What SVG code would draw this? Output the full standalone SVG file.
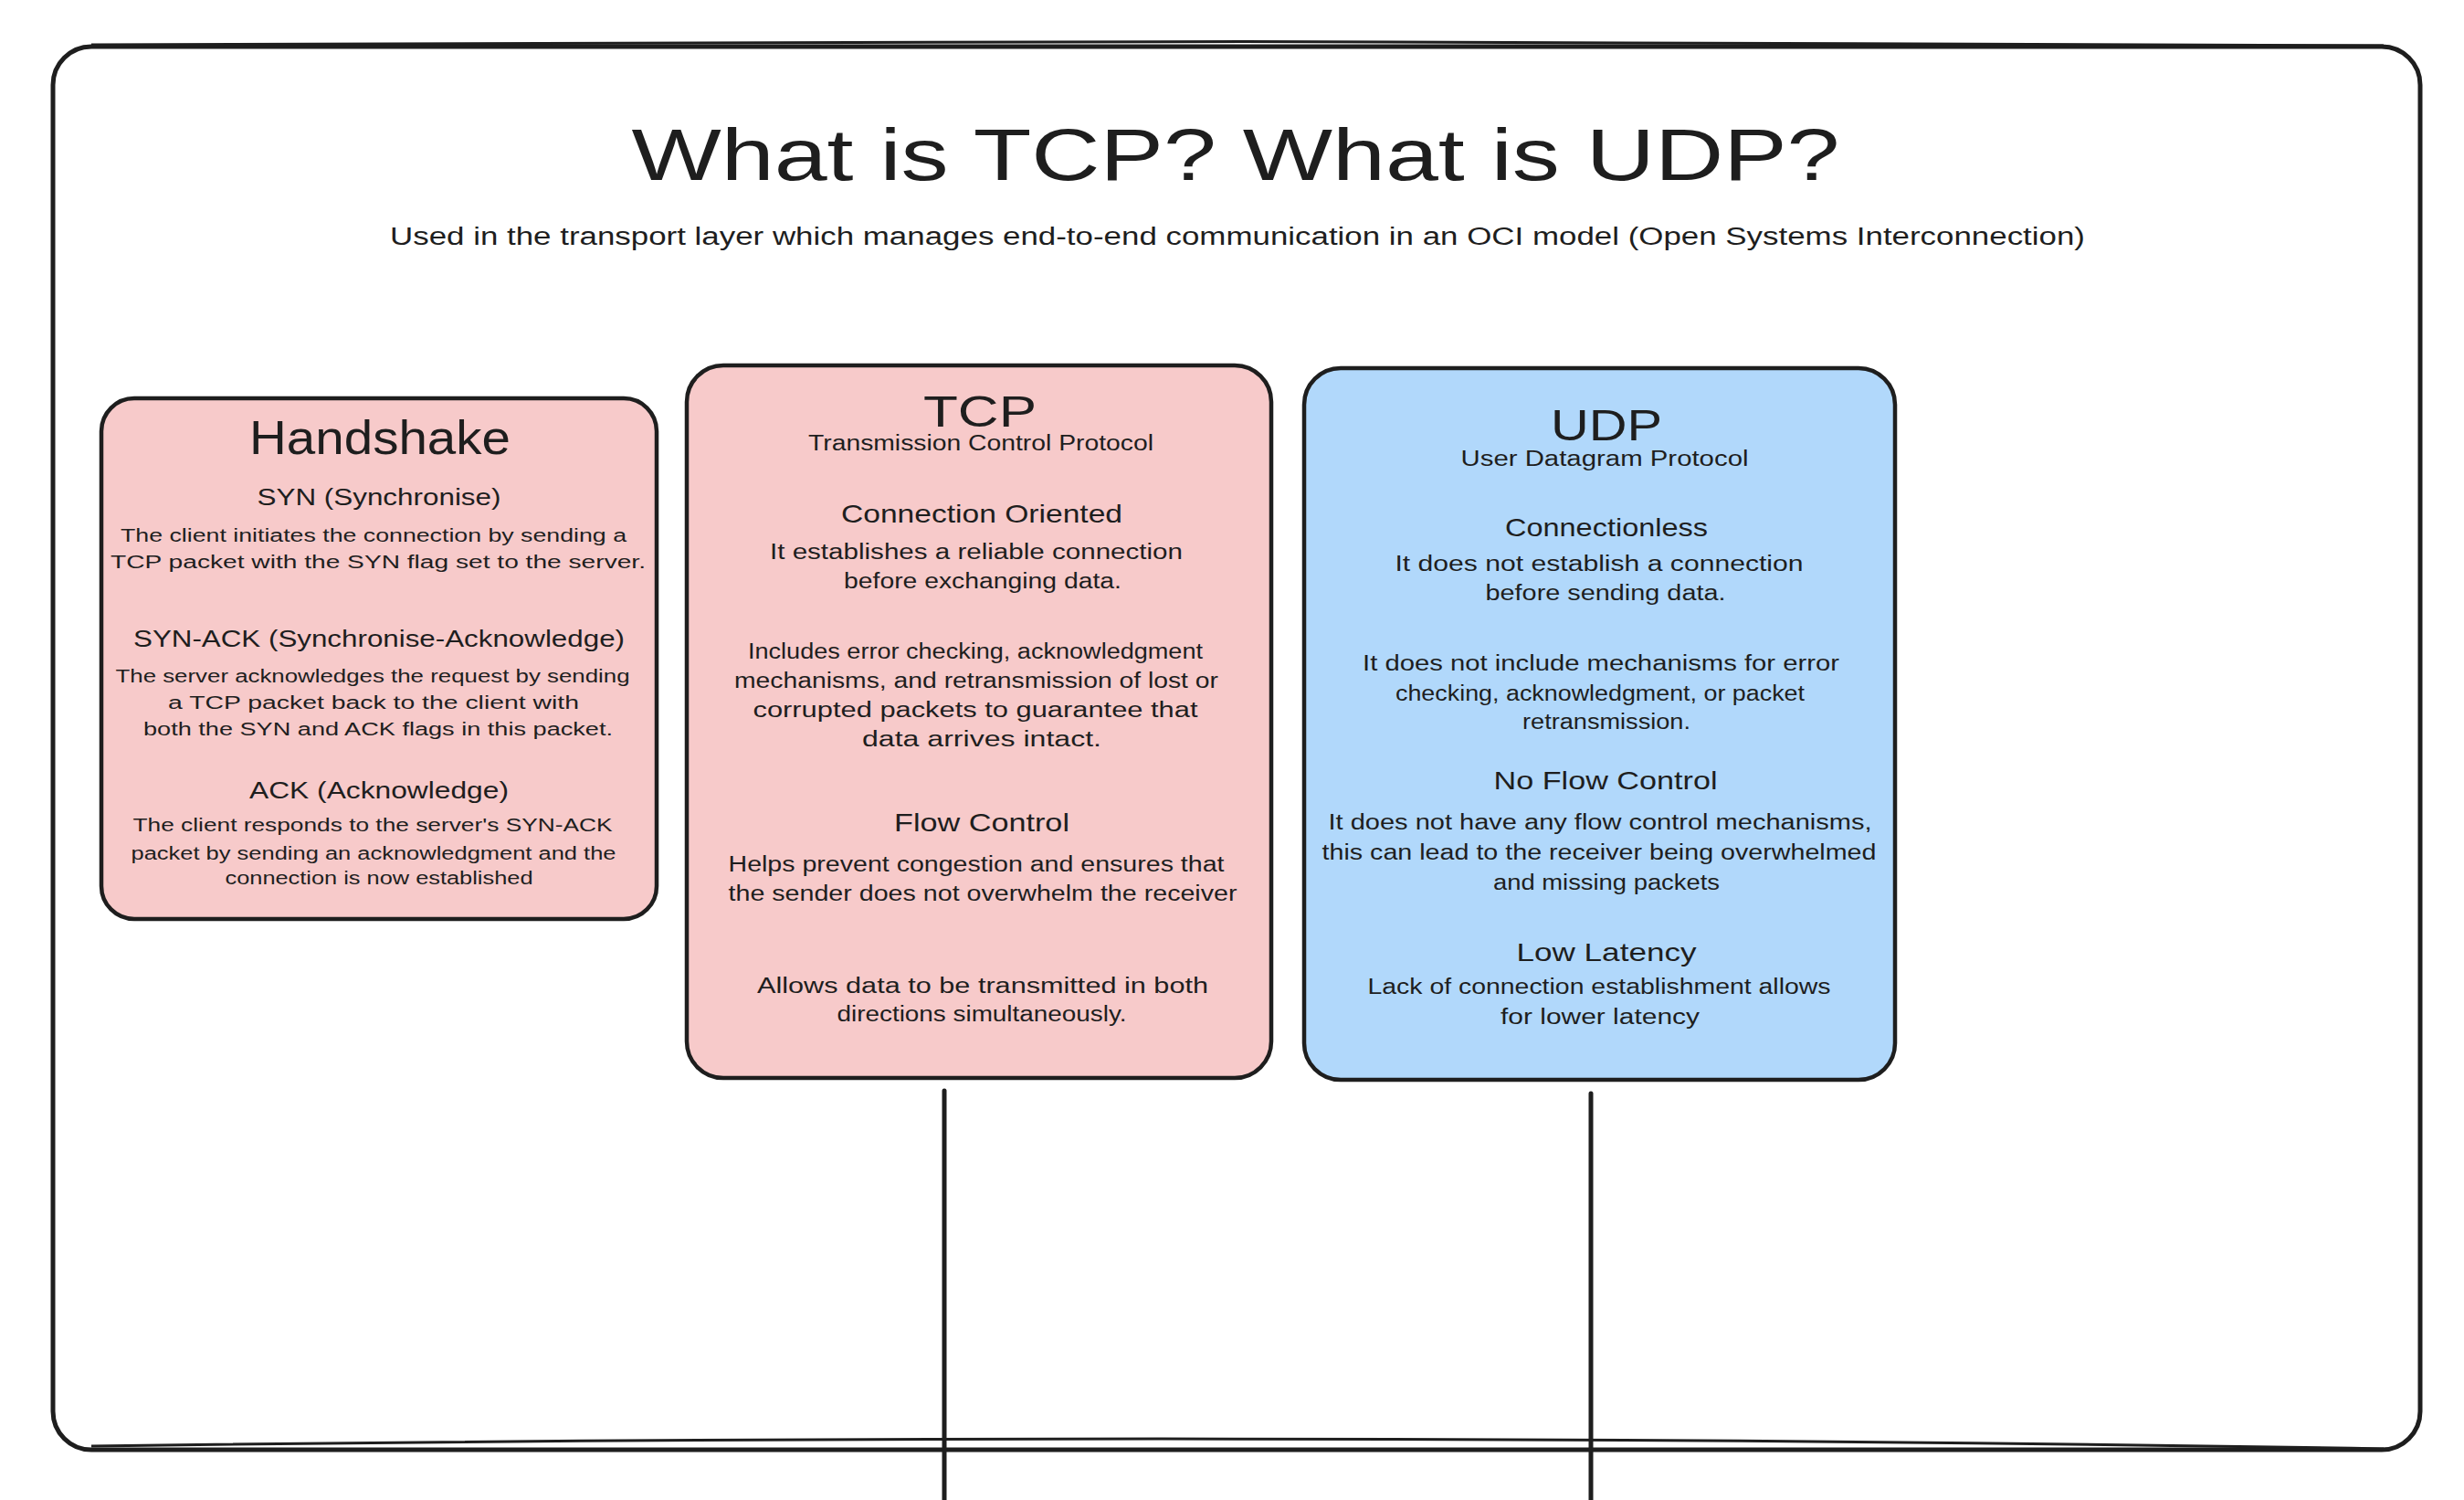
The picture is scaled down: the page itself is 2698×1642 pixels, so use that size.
<svg xmlns="http://www.w3.org/2000/svg" width="2698" height="1642" viewBox="0 0 2698 1642">
<style>
text{font-family:"Liberation Sans","DejaVu Sans",sans-serif;fill:#1e1e1e;text-anchor:middle}
.box{stroke:#1e1e1e;stroke-width:4.5;stroke-linejoin:round}
.pink{fill:#f7caca}
.blue{fill:#b1d8fb}
.frame{fill:#ffffff;stroke:#1e1e1e;stroke-width:5}
.conn{stroke:#1e1e1e;stroke-width:5;fill:none;stroke-linecap:round}
.t1{font-size:80px}
.st{font-size:27px}
.hs{font-size:52px}
.hh{font-size:25px}
.hb{font-size:20px}
.bt{font-size:48px}
.bs{font-size:23px}
.sh{font-size:28px}
.sb{font-size:23px}
</style>
<rect width="2698" height="1642" fill="#ffffff"/>
<g id="frame">
<rect class="frame" x="58" y="51" width="2592" height="1536" rx="42"/>
<path d="M100 49 C700 44 2000 44 2610 50" fill="none" stroke="#1e1e1e" stroke-width="3"/>
<path d="M100 1583 C900 1572 1800 1572 2610 1586" fill="none" stroke="#1e1e1e" stroke-width="3"/>
</g>
<g id="title">
<text class="t1" x="1353" y="197" textLength="1323" lengthAdjust="spacingAndGlyphs">What is TCP? What is UDP?</text>
<text class="st" x="1355" y="268" textLength="1856" lengthAdjust="spacingAndGlyphs">Used in the transport layer which manages end-to-end communication in an OCI model (Open Systems Interconnection)</text>
</g>
<g id="connectors">
<line class="conn" x1="1034" y1="1194" x2="1034" y2="1642"/>
<line class="conn" x1="1742" y1="1197" x2="1742" y2="1642"/>
</g>
<g id="handshake">
<rect class="box pink" x="111" y="436" width="608" height="570" rx="36"/>
<text class="hs" x="416" y="497" textLength="286" lengthAdjust="spacingAndGlyphs">Handshake</text>
<text class="hh" x="415" y="553" textLength="267" lengthAdjust="spacingAndGlyphs">SYN (Synchronise)</text>
<text class="hb" x="409" y="593" textLength="554" lengthAdjust="spacingAndGlyphs">The client initiates the connection by sending a</text>
<text class="hb" x="414" y="622" textLength="586" lengthAdjust="spacingAndGlyphs">TCP packet with the SYN flag set to the server.</text>
<text class="hh" x="415" y="708" textLength="538" lengthAdjust="spacingAndGlyphs">SYN-ACK (Synchronise-Acknowledge)</text>
<text class="hb" x="408" y="747" textLength="563" lengthAdjust="spacingAndGlyphs">The server acknowledges the request by sending</text>
<text class="hb" x="409" y="776" textLength="450" lengthAdjust="spacingAndGlyphs">a TCP packet back to the client with</text>
<text class="hb" x="414" y="805" textLength="514" lengthAdjust="spacingAndGlyphs">both the SYN and ACK flags in this packet.</text>
<text class="hh" x="415" y="874" textLength="284" lengthAdjust="spacingAndGlyphs">ACK (Acknowledge)</text>
<text class="hb" x="408" y="910" textLength="525" lengthAdjust="spacingAndGlyphs">The client responds to the server's SYN-ACK</text>
<text class="hb" x="409" y="941" textLength="531" lengthAdjust="spacingAndGlyphs">packet by sending an acknowledgment and the</text>
<text class="hb" x="415" y="968" textLength="337" lengthAdjust="spacingAndGlyphs">connection is now established</text>
</g>
<g id="tcp">
<rect class="box pink" x="752" y="400" width="640" height="780" rx="40"/>
<text class="bt" x="1073" y="467" textLength="124" lengthAdjust="spacingAndGlyphs">TCP</text>
<text class="bs" x="1074" y="493" textLength="378" lengthAdjust="spacingAndGlyphs">Transmission Control Protocol</text>
<text class="sh" x="1075" y="572" textLength="308" lengthAdjust="spacingAndGlyphs">Connection Oriented</text>
<text class="sb" x="1069" y="612" textLength="452" lengthAdjust="spacingAndGlyphs">It establishes a reliable connection</text>
<text class="sb" x="1076" y="644" textLength="304" lengthAdjust="spacingAndGlyphs">before exchanging data.</text>
<text class="sb" x="1068" y="721" textLength="498" lengthAdjust="spacingAndGlyphs">Includes error checking, acknowledgment</text>
<text class="sb" x="1069" y="753" textLength="530" lengthAdjust="spacingAndGlyphs">mechanisms, and retransmission of lost or</text>
<text class="sb" x="1068" y="785" textLength="487" lengthAdjust="spacingAndGlyphs">corrupted packets to guarantee that</text>
<text class="sb" x="1075" y="817" textLength="262" lengthAdjust="spacingAndGlyphs">data arrives intact.</text>
<text class="sh" x="1075" y="910" textLength="192" lengthAdjust="spacingAndGlyphs">Flow Control</text>
<text class="sb" x="1069" y="954" textLength="543" lengthAdjust="spacingAndGlyphs">Helps prevent congestion and ensures that</text>
<text class="sb" x="1076" y="986" textLength="557" lengthAdjust="spacingAndGlyphs">the sender does not overwhelm the receiver</text>
<text class="sb" x="1076" y="1087" textLength="494" lengthAdjust="spacingAndGlyphs">Allows data to be transmitted in both</text>
<text class="sb" x="1075" y="1118" textLength="317" lengthAdjust="spacingAndGlyphs">directions simultaneously.</text>
</g>
<g id="udp">
<rect class="box blue" x="1428" y="403" width="647" height="779" rx="40"/>
<text class="bt" x="1759" y="482" textLength="122" lengthAdjust="spacingAndGlyphs">UDP</text>
<text class="bs" x="1757" y="510" textLength="315" lengthAdjust="spacingAndGlyphs">User Datagram Protocol</text>
<text class="sh" x="1759" y="587" textLength="222" lengthAdjust="spacingAndGlyphs">Connectionless</text>
<text class="sb" x="1751" y="625" textLength="447" lengthAdjust="spacingAndGlyphs">It does not establish a connection</text>
<text class="sb" x="1758" y="657" textLength="263" lengthAdjust="spacingAndGlyphs">before sending data.</text>
<text class="sb" x="1753" y="734" textLength="522" lengthAdjust="spacingAndGlyphs">It does not include mechanisms for error</text>
<text class="sb" x="1752" y="767" textLength="448" lengthAdjust="spacingAndGlyphs">checking, acknowledgment, or packet</text>
<text class="sb" x="1759" y="798" textLength="184" lengthAdjust="spacingAndGlyphs">retransmission.</text>
<text class="sh" x="1758" y="864" textLength="245" lengthAdjust="spacingAndGlyphs">No Flow Control</text>
<text class="sb" x="1752" y="908" textLength="595" lengthAdjust="spacingAndGlyphs">It does not have any flow control mechanisms,</text>
<text class="sb" x="1751" y="941" textLength="607" lengthAdjust="spacingAndGlyphs">this can lead to the receiver being overwhelmed</text>
<text class="sb" x="1759" y="974" textLength="248" lengthAdjust="spacingAndGlyphs">and missing packets</text>
<text class="sh" x="1759" y="1052" textLength="197" lengthAdjust="spacingAndGlyphs">Low Latency</text>
<text class="sb" x="1751" y="1088" textLength="507" lengthAdjust="spacingAndGlyphs">Lack of connection establishment allows</text>
<text class="sb" x="1752" y="1121" textLength="218" lengthAdjust="spacingAndGlyphs">for lower latency</text>
</g>
</svg>
